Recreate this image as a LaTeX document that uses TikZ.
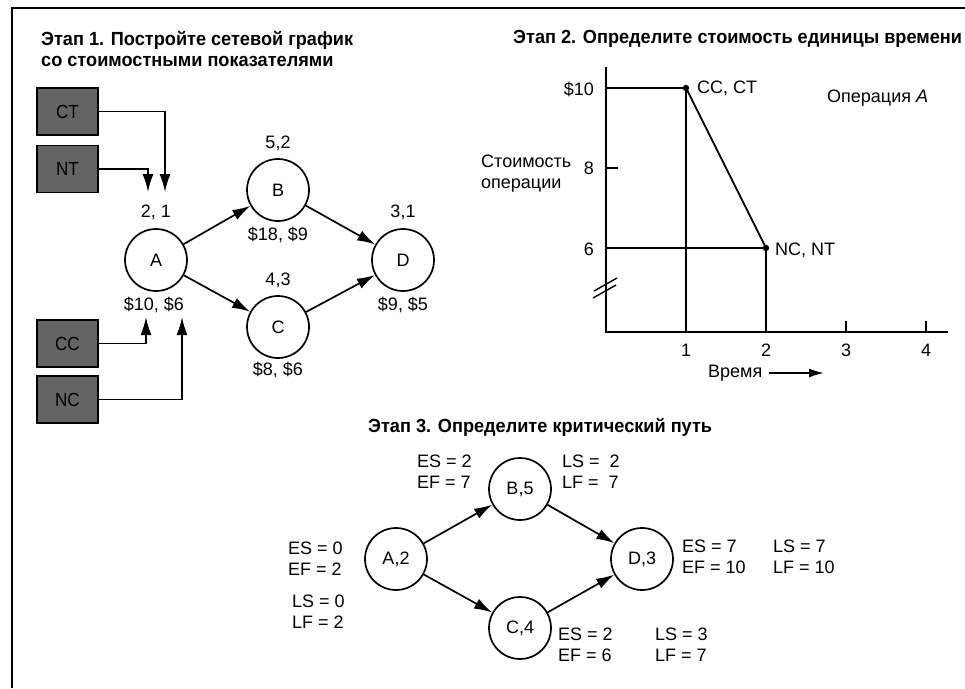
\documentclass[tikz,border=0pt]{standalone}
\usepackage{fontspec}
\setmainfont{Liberation Sans}
\newfontfamily\ttlfont[FakeStretch=0.955]{Liberation Sans}
\newfontfamily\boxfont[FakeStretch=0.9]{Liberation Sans}
\usetikzlibrary{arrows.meta,calc}
\definecolor{boxgray}{RGB}{100,100,100}
\tikzset{
 txt/.style={font=\fontsize{18}{21}\selectfont, inner sep=0pt, align=left},
 ttl/.style={font=\ttlfont\bfseries\fontsize{19}{21}\selectfont, inner sep=0pt, anchor=west},
 circ/.style={circle, draw, line width=1.7pt, minimum size=62pt, inner sep=0pt, font=\fontsize{18}{21}\selectfont},
 gbox/.style={rectangle, draw, line width=1.4pt, fill=boxgray, minimum width=61pt, minimum height=47pt, inner sep=0pt, font=\boxfont\fontsize{19}{20}\selectfont},
 arr/.style={line width=1.7pt, -{Latex[length=18pt,width=11pt]}},
 ax/.style={line width=1.8pt},
 thk/.style={line width=2.8pt},
}
\begin{document}
\begin{tikzpicture}[x=1pt,y=-1pt]
\useasboundingbox (0,0) rectangle (965,688);
\fill[white] (0,0) rectangle (965,688);
\draw[line width=2.2pt] (12,688) -- (12,8) -- (965,8);

% ---------- Stage 1 ----------
\node[ttl] (t1a) at (41,40) {Этап 1. Постройте сетевой график};
\node[ttl] (t1b) at (41,61) {со стоимостными показателями};

\node[gbox] (CT) at (67.5,111.5) {CT};
\node[gbox] (NT) at (67.5,169) {NT};
\node[gbox] (CC) at (67.5,343.5) {CC};
\node[gbox] (NC) at (67.5,399.5) {NC};

\node[circ] (A) at (156,260) {A};
\node[circ] (B) at (278,190) {B};
\node[circ] (C) at (278,327) {C};
\node[circ] (D) at (403,260) {D};

\node[txt] (lA1) at (156,212) {2, 1};
\node[txt] (lA2) at (154,305) {\$10, \$6};
\node[txt] (lB1) at (278,143) {5,2};
\node[txt] (lB2) at (278,235) {\$18, \$9};
\node[txt] (lC1) at (278,280) {4,3};
\node[txt] (lC2) at (278,370) {\$8, \$6};
\node[txt] (lD1) at (403,212) {3,1};
\node[txt] (lD2) at (403,305) {\$9, \$5};

\coordinate (ctend) at (165,192);
\coordinate (ntend) at (148,192);
\coordinate (ccend) at (146,317);
\coordinate (ncend) at (182,317);
\draw[arr] (CT.east) -| (ctend);
\draw[arr] (NT.east) -| (ntend);
\draw[arr] (CC.east) -| (ccend);
\draw[arr] (NC.east) -| (ncend);

\draw[arr] (A) -- (B);
\draw[arr] (A) -- (C);
\draw[arr] (B) -- (D);
\draw[arr] (C) -- (D);

% ---------- Stage 2 ----------
\node[ttl] (t2) at (513,39) {Этап 2. Определите стоимость единицы времени};

\draw[ax] (606,67) -- (606,332) -- (948,332);
\draw[ax] (606,168) -- (618,168);
\draw[ax] (846,332) -- (846,321);
\draw[ax] (926,332) -- (926,321);
\draw[line width=1.4pt] (593,298) -- (616,285);
\draw[line width=1.4pt] (594,291) -- (617,278);

\draw[ax] (606,88) -- (686,88);
\draw[thk] (686,88) -- (686,332);
\draw[ax] (686,88) -- (766,248);
\draw[ax] (606,248) -- (766,248);
\draw[thk] (766,248) -- (766,332);
\fill (686,88) circle (3.2pt);
\fill (766,248) circle (3.2pt);

\node[txt, anchor=east] (y10) at (594,89) {\$10};
\node[txt, anchor=east] (y8) at (594,168) {8};
\node[txt, anchor=east] (y6) at (594,249) {6};
\node[txt, anchor=west] (ylab) at (481,174) {Стоимость\\операции};
\node[txt, anchor=west] (ccct) at (697,88) {CC, CT};
\node[txt, anchor=west] (ncnt) at (775,250) {NC, NT};
\node[txt, anchor=west] (opA) at (827,98) {Операция \textit{A}};
\node[txt] (x1) at (686,350) {1};
\node[txt] (x2) at (766,350) {2};
\node[txt] (x3) at (846,350) {3};
\node[txt] (x4) at (926,350) {4};
\node[txt, anchor=west] (vr) at (708,373) {Время};
\coordinate (vrend) at (824,373);
\draw[line width=1.7pt, -{Latex[length=15pt,width=9pt]}] ([xshift=6pt]vr.east) -- (vrend);

% ---------- Stage 3 ----------
\node[ttl] (t3) at (368,427) {Этап 3. Определите критический путь};

\node[circ] (A3) at (396,559) {A,2};
\node[circ] (B3) at (520,489) {B,5};
\node[circ] (C3) at (520,628) {C,4};
\node[circ] (D3) at (642,559) {D,3};

\draw[arr] (A3) -- (B3);
\draw[arr] (A3) -- (C3);
\draw[arr] (B3) -- (D3);
\draw[arr] (C3) -- (D3);

\node[txt, anchor=west] (sB1) at (417,472) {ES = 2\\EF = 7};
\node[txt, anchor=west] (sB2) at (562,472) {LS = ~2\\LF = ~7};
\node[txt, anchor=west] (sA1) at (288,559) {ES = 0\\EF = 2};
\node[txt, anchor=west] (sA2) at (292,612) {LS = 0\\LF = 2};
\node[txt, anchor=west] (sD1) at (682,557) {ES = 7\\EF = 10};
\node[txt, anchor=west] (sD2) at (773,557) {LS = 7\\LF = 10};
\node[txt, anchor=west] (sC1) at (558,645) {ES = 2\\EF = 6};
\node[txt, anchor=west] (sC2) at (655,645) {LS = 3\\LF = 7};
\end{tikzpicture}
\end{document}
